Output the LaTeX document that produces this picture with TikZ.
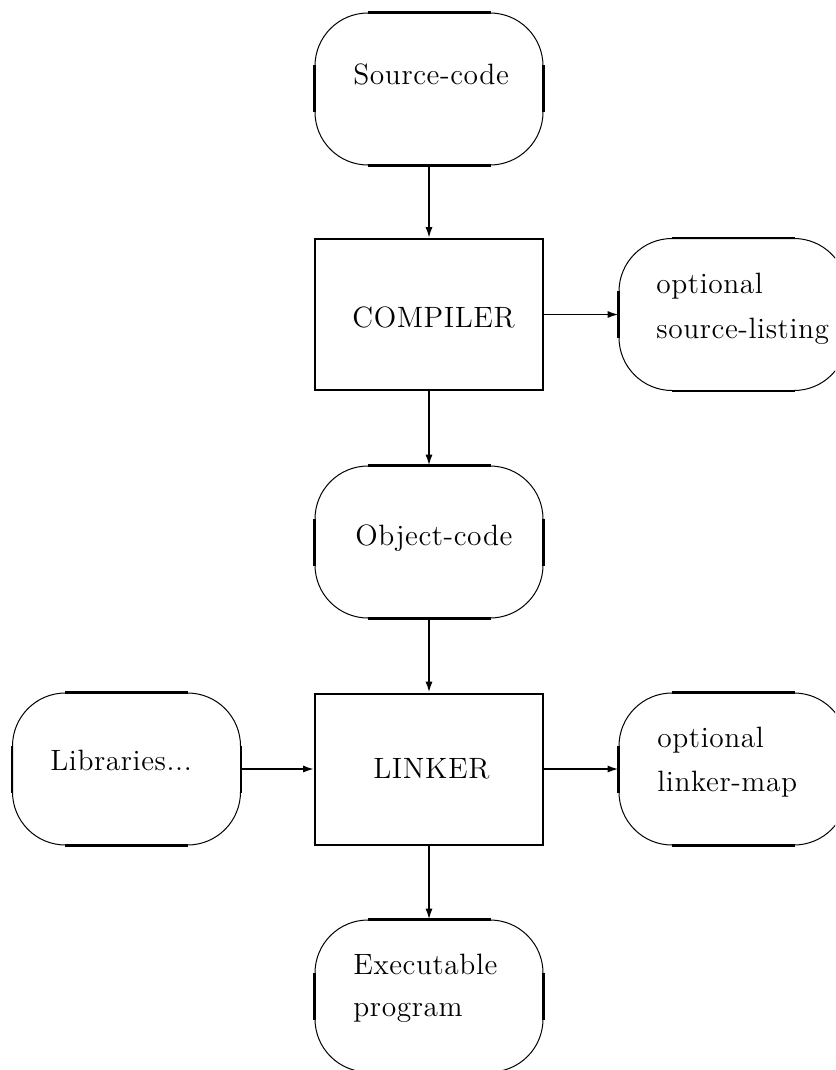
\documentclass[tikz,border=0pt]{standalone}
\usepackage{fontspec}
\newfontfamily\lblfont{lmroman12-regular.otf}[LetterSpace=2]
\usetikzlibrary{arrows.meta}
\begin{document}
\begin{tikzpicture}[x=0.5pt,y=-0.5pt,
  ovalbox/.style={draw, line width=0.5pt, rounded corners=26.5pt, minimum width=114pt, minimum height=76pt, inner sep=0pt},
  procbox/.style={draw, line width=1pt, minimum width=114pt, minimum height=75.5pt, inner sep=0pt},
  lbl/.style={anchor=base west, inner sep=0pt, font=\lblfont\fontsize{14.7}{17}\selectfont},
  flow/.style={line width=0.9pt, -{Latex[length=5.5pt,width=3.6pt]}},
  straightedge/.style={line width=1.1pt, line cap=butt}]
\useasboundingbox (0,0) rectangle (835,1070);
\clip (0,0) rectangle (835,1070);
% shapes
\node[ovalbox] (src) at (429,89) {};
\node[procbox] (comp) at (429,314.5) {};
\node[ovalbox] (osl) at (733,314.5) {};
\node[ovalbox] (obj) at (429,542) {};
\node[procbox] (link) at (429,769) {};
\node[ovalbox] (lib) at (126.5,769) {};
\node[ovalbox] (olm) at (733,769) {};
\node[ovalbox] (exe) at (429,996) {};
% thick straight parts of the ovals
\foreach \n in {src,osl,obj,lib,olm,exe} {
  \draw[straightedge] ([xshift=26.5pt]\n.north west) -- ([xshift=-26.5pt]\n.north east);
  \draw[straightedge] ([xshift=26.5pt]\n.south west) -- ([xshift=-26.5pt]\n.south east);
  \draw[straightedge] ([yshift=-26.5pt]\n.north west) -- ([yshift=26.5pt]\n.south west);
  \draw[straightedge] ([yshift=-26.5pt]\n.north east) -- ([yshift=26.5pt]\n.south east);
}
% texts
\node[lbl] (srcT) at (353,85) {Source-code};
\node[lbl] (compT) at (352,327) {COMPILER};
\node[lbl] (oslT1) at (656,293) {optional};
\node[lbl] (oslT2) at (656,338) {source-listing};
\node[lbl] (objT) at (355,545) {Object-code};
\node[lbl] (linkT) at (373,778) {LINKER};
\node[lbl] (libT) at (50,770) {Libraries...};
\node[lbl] (olmT1) at (657,747) {optional};
\node[lbl] (olmT2) at (657,791) {linker-map};
\node[lbl] (exeT1) at (353,974) {Executable};
\node[lbl] (exeT2) at (353,1016) {program};
% connectors
\draw[flow] (src) -- (comp);
\draw[flow] (comp) -- (obj);
\draw[flow] (obj) -- (link);
\draw[flow] (link) -- (exe);
\draw[flow] (comp) -- (osl);
\draw[flow] (lib) -- (link);
\draw[flow] (link) -- (olm);
\end{tikzpicture}
\end{document}
